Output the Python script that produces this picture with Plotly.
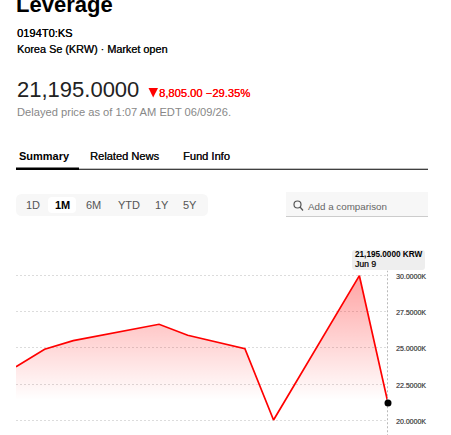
import plotly.graph_objects as go

W, H = 451, 435

dates = ["May 21", "May 22", "May 25", "May 26", "May 27", "May 28", "May 29",
         "Jun 1", "Jun 2", "Jun 3", "Jun 4", "Jun 5", "Jun 8", "Jun 9"]
prices = [23700, 24910, 25505, 25880, 26260, 26640, 25880,
          25415, 24950, 20020, 23350, 26680, 30000, 21195]
tick_values = [20000, 22500, 25000, 27500, 30000]
tick_labels = ["20.0000K", "22.5000K", "25.0000K", "27.5000K", "30.0000K"]
range_labels = ["1D", "1M", "6M", "YTD", "1Y", "5Y"]
tab_labels = ["Summary", "Related News", "Fund Info"]

FONT = "Liberation Sans, Arial, sans-serif"
RED = "#ff0000"


def px(x):
    return x / W


def py(y):
    return 1 - y / H


def text(x, y, s, size=11, color="#111111", anchor="left", bold=False, heavy=False):
    font = dict(family=FONT, size=size, color=color)
    if heavy:
        # Slightly thickens regular glyphs for the medium-weight labels
        font["shadow"] = f"0.2px 0 0 {color}"
    return dict(
        x=px(x), y=py(y), xref="paper", yref="paper", text=f"<b>{s}</b>" if bold else s,
        showarrow=False, xanchor=anchor, yanchor="middle", align=anchor,
        font=font, borderpad=0, borderwidth=0,
    )


def round_rect(x0, y0, x1, y1, r, fill):
    X0, X1 = px(x0), px(x1)
    Y0, Y1 = py(y0), py(y1)
    rx, ry = r / W, r / H
    path = (f"M{X0+rx},{Y0} L{X1-rx},{Y0} Q{X1},{Y0} {X1},{Y0-ry} "
            f"L{X1},{Y1+ry} Q{X1},{Y1} {X1-rx},{Y1} "
            f"L{X0+rx},{Y1} Q{X0},{Y1} {X0},{Y1+ry} "
            f"L{X0},{Y0-ry} Q{X0},{Y0} {X0+rx},{Y0} Z")
    return dict(type="path", path=path, xref="paper", yref="paper",
                fillcolor=fill, line=dict(width=0), layer="below")


def rect(x0, y0, x1, y1, fill):
    return dict(type="rect", xref="paper", yref="paper", x0=px(x0), x1=px(x1),
                y0=py(y0), y1=py(y1), fillcolor=fill, line=dict(width=0), layer="below")


fig = go.Figure()

# Price area with a vertical fade towards the lower part of the plot
fig.add_trace(go.Scatter(
    x=list(range(len(prices))), y=prices, mode="lines",
    line=dict(color=RED, width=1.7), fill="tozeroy",
    fillgradient=dict(
        type="vertical",
        start=21400, stop=30000,
        colorscale=[[0, "rgba(255,0,0,0)"], [1, "rgba(255,0,0,0.36)"]],
    ),
    text=dates, hoverinfo="text+y", showlegend=False,
))

# Crosshair and marker on the latest close
fig.add_trace(go.Scatter(
    x=[len(prices) - 1, len(prices) - 1], y=[18900, 30350], mode="lines",
    line=dict(color="#b9b9b9", width=2, dash="2px,2px"),
    hoverinfo="skip", showlegend=False, cliponaxis=False,
))
fig.add_trace(go.Scatter(
    x=[len(prices) - 1], y=[prices[-1]], mode="markers",
    marker=dict(color="#000000", size=7),
    hoverinfo="skip", showlegend=False, cliponaxis=False,
))

annotations = [
    text(16, 4.5, "Leverage", size=22, color="#000000", bold=True),
    text(17, 33, "0194T0:KS", size=11.1, color="#000000", heavy=True),
    text(17, 49, "Korea Se (KRW) · Market open", size=10.85, color="#111111", heavy=True),
    text(17, 90, "21,195.0000", size=22, color="#222222"),
    text(159, 93, "8,805.00 −29.35%", size=11.2, color=RED, heavy=True),
    text(17, 112, "Delayed price as of 1:07 AM EDT 06/09/26.", size=11.15, color="#888888"),
    text(19, 156, tab_labels[0], size=11, color="#000000", bold=True),
    text(90, 156, tab_labels[1], size=11.1, color="#111111", heavy=True),
    text(183, 156, tab_labels[2], size=11.1, color="#111111", heavy=True),
    text(308, 206, "Add a comparison", size=9.8, color="#666666"),
    text(354.5, 255, "21,195.0000 KRW", size=8.2, color="#000000", bold=True),
    text(354.5, 264, "Jun 9", size=8.6, color="#222222", heavy=True),
]
for label, cx in zip(range_labels, [33, 62, 93, 128.5, 162, 190]):
    selected = label == "1M"
    annotations.append(text(cx, 205.5, label, size=11, anchor="center",
                            color="#000000" if selected else "#555555", bold=selected))

# Axis values sit right-aligned beyond the crosshair
for value, label in zip(tick_values, tick_labels):
    annotations.append(dict(
        x=px(428), xref="paper", y=value, yref="y", text=label, showarrow=False,
        xanchor="right", yanchor="middle", yshift=-1,
        font=dict(family=FONT, size=7, color="#555555", shadow="0.2px 0 0 #555555"),
    ))

down_arrow = f"M{px(148.5)},{py(88)} L{px(158)},{py(88)} L{px(153.2)},{py(97.5)} Z"

shapes = [
    rect(16, 168.7, 428, 169.7, "#000000"),
    rect(16, 167.5, 79, 170, "#000000"),
    round_rect(16, 194, 208, 216, 6, "#f7f7f7"),
    round_rect(48, 197, 76, 213, 4, "#ffffff"),
    rect(286, 192, 428, 217, "#f7f7f7"),
    rect(286, 216, 428, 217, "#cccccc"),
    round_rect(352, 250, 425, 270, 3, "#eeeeee"),
    dict(type="path", path=down_arrow, xref="paper", yref="paper",
         fillcolor=RED, line=dict(width=0)),
    dict(type="circle", xref="paper", yref="paper",
         x0=px(294), x1=px(301), y0=py(208), y1=py(201),
         line=dict(color="#555555", width=1.2)),
    dict(type="line", xref="paper", yref="paper",
         x0=px(300), x1=px(303), y0=py(207), y1=py(210.5),
         line=dict(color="#555555", width=1.2)),
]

fig.update_layout(
    width=W, height=H, autosize=False,
    margin=dict(l=0, r=0, t=0, b=0),
    paper_bgcolor="#ffffff", plot_bgcolor="#ffffff",
    showlegend=False,
    font=dict(family=FONT),
    annotations=annotations, shapes=shapes,
    xaxis=dict(domain=[px(16), px(388)], range=[0, len(prices) - 1],
               showgrid=False, zeroline=False, showticklabels=False, ticks="",
               fixedrange=True),
    yaxis=dict(domain=[0, py(255)], range=[18983, 31431],
               tickvals=tick_values, ticktext=tick_labels, showticklabels=False,
               showgrid=True, griddash="2px,2px", gridcolor="#dcdcdc", gridwidth=1,
               zeroline=False, ticks="", fixedrange=True),
)

fig.write_html("out.html", config={"displayModeBar": False})
